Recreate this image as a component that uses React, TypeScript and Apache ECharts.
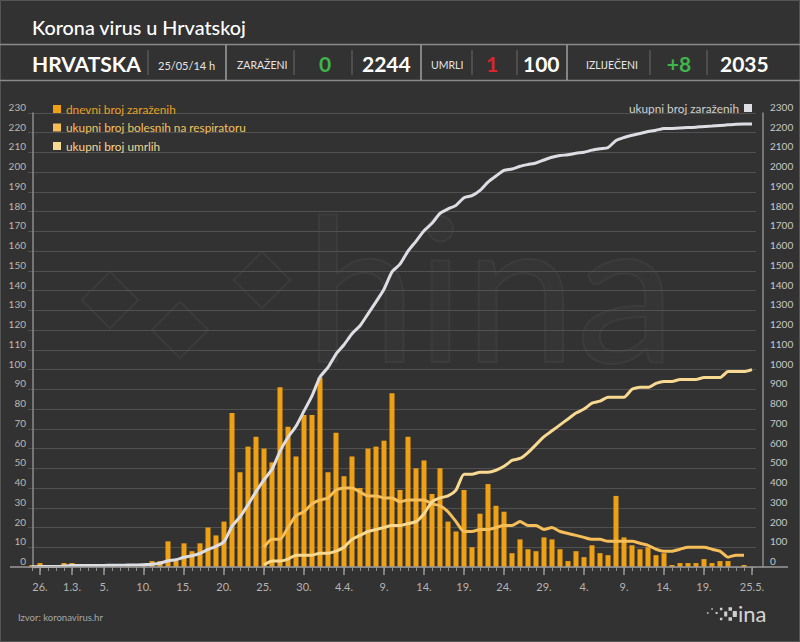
import React, { useEffect, useRef } from "react";
import * as echarts from "echarts";

// ---- data ----
const START_YEAR = 2020;
const START_MONTH = 1; // February (0-based)
const START_DAY = 25;
const DAY_COUNT = 91; // 25.2. .. 25.5.

const dailyCases = [
  1, 2, 0, 0, 2, 2, 0, 0, 1, 0, 1, 0, 1, 0, 1,
  3, 3, 13, 3, 12, 8, 12, 20, 16, 23,
  78, 48, 61, 66, 60, 53, 91, 71, 56, 77, 77,
  96, 48, 68, 46, 56, 40, 60, 61, 64, 88,
  39, 66, 50, 54, 37, 50, 23, 18, 39, 10,
  27, 42, 31, 28, 7, 14, 9, 8, 15, 14,
  9, 3, 8, 5, 11, 7, 6, 36, 15, 11,
  9, 10, 6, 7, 1, 2, 2, 2, 4, 2,
  3, 3, 0, 1, 0,
];

const totalCases = [
  1, 3, 3, 3, 5, 7, 7, 7, 8, 8, 9, 9, 10, 10, 12,
  14, 19, 32, 37, 49, 57, 69, 89, 105, 128,
  206, 254, 315, 382, 442, 495, 586, 657, 713, 790, 867,
  963, 1011, 1079, 1126, 1182, 1222, 1282, 1343, 1407, 1495,
  1534, 1600, 1650, 1704, 1741, 1791, 1814, 1832, 1871, 1881,
  1908, 1950, 1981, 2009, 2016, 2030, 2039, 2047, 2062, 2076,
  2085, 2088, 2096, 2101, 2112, 2119, 2125, 2161, 2176, 2187,
  2196, 2206, 2213, 2221, 2222, 2224, 2226, 2228, 2232, 2234,
  2237, 2240, 2243, 2244, 2244,
];

const onRespirator = [
  null, null, null, null, null, null, null, null, null, null, null, null, null, null, null,
  null, null, null, null, null, null, null, null, null, null,
  null, null, null, null, 10, 14, 14, 20, 26, 28, 32,
  34, 35, 39, 40, 40, 38, 36, 36, 35, 35,
  33, 34, 34, 34, 32, 31, 28, 23, 18, 18,
  19, 19, 20, 21, 21, 23, 21, 21, 19, 20,
  18, 17, 16, 15, 14, 14, 13, 13, 13, 13,
  12, 11, 9, 8, 8, 9, 10, 10, 10, 9,
  8, 5, 6, 6, null,
];

const totalDeaths = [
  null, null, null, null, null, null, null, null, null, null, null, null, null, null, null,
  null, null, null, null, null, null, null, null, null, null,
  null, null, null, null, 1, 3, 3, 4, 6, 6, 6,
  7, 7, 8, 10, 14, 16, 18, 19, 20, 21,
  21, 22, 23, 27, 33, 35, 36, 39, 47, 47,
  48, 48, 49, 51, 54, 55, 58, 62, 66, 69,
  72, 75, 78, 80, 83, 84, 86, 86, 86, 90,
  91, 91, 93, 94, 94, 95, 95, 95, 96, 96,
  96, 99, 99, 99, 100,
];

const tickDates = [
  "26.2.", "1.3.", "5.3.", "10.3.", "15.3.", "20.3.", "25.3.", "30.3.", "4.4.", "9.4.",
  "14.4.", "19.4.", "24.4.", "29.4.", "4.5.", "9.5.", "14.5.", "19.5.", "25.5.",
];
const tickTexts = [
  "26.", "1.3.", "5.", "10.", "15.", "20.", "25.", "30.", "4.4.", "9.",
  "14.", "19.", "24.", "29.", "4.", "9.", "14.", "19.", "25.5.",
];

const seriesNames = [
  "dnevni broj zaraženih",
  "ukupni broj bolesnih na respiratoru",
  "ukupni broj umrlih",
  "ukupni broj zaraženih",
];

const headerCells = [
  { label: "ZARAŽENI", today: "0", todayColor: "#3fb54a", total: "2244" },
  { label: "UMRLI", today: "1", todayColor: "#d8262e", total: "100" },
  { label: "IZLIJEČENI", today: "+8", todayColor: "#3fb54a", total: "2035" },
];

// ---- helpers ----
function buildCategories(): string[] {
  const out: string[] = [];
  for (let i = 0; i < DAY_COUNT; i++) {
    const d = new Date(START_YEAR, START_MONTH, START_DAY + i);
    out.push(`${d.getDate()}.${d.getMonth() + 1}.`);
  }
  return out;
}

const FONT = "Lato";

export default function App() {
  const ref = useRef<HTMLDivElement>(null);

  useEffect(() => {
    document.body.style.margin = "0";
    if (!ref.current) return;
    const chart = echarts.init(ref.current, undefined, { renderer: "svg" });
    const categories = buildCategories();
    const isTick = (_i: number, v: string) => tickDates.indexOf(v) >= 0;

    const colors = {
      bg: "#323232",
      bar: "#efa013",
      resp: "#f5be58",
      deaths: "#f8d992",
      total: "#dddde4",
      grid: "#515151",
      axis: "#8c8c8c",
    };

    const header: any[] = [
      {
        type: "rect",
        silent: true,
        shape: { x: 0.5, y: 0.5, width: 799, height: 641 },
        style: { fill: "none", stroke: "#555", lineWidth: 1 },
      },
      {
        type: "text",
        style: {
          text: "Korona virus u Hrvatskoj",
          x: 32, y: 27, fill: "#ffffff", fontSize: 19.8, fontFamily: FONT, fontWeight: 500,
          verticalAlign: "middle",
        },
      },
      { type: "line", shape: { x1: 0, y1: 44.5, x2: 800, y2: 44.5 }, style: { stroke: "#8a8a8a", lineWidth: 1.5 } },
      { type: "line", shape: { x1: 0, y1: 80.5, x2: 800, y2: 80.5 }, style: { stroke: "#8a8a8a", lineWidth: 1.5 } },
      {
        type: "text",
        style: { text: "HRVATSKA", x: 32, y: 63, fill: "#fff", fontSize: 21, fontWeight: "bold", fontFamily: FONT, verticalAlign: "middle" },
      },
      {
        type: "text",
        style: { text: "25/05/14 h", x: 158, y: 65, fill: "#e6e6e6", fontSize: 11, fontFamily: FONT, verticalAlign: "middle" },
      },
    ];
    [226, 421, 567].forEach((x) =>
      header.push({ type: "line", shape: { x1: x, y1: 45, x2: x, y2: 80 }, style: { stroke: "#a0a0a0", lineWidth: 1.5 } })
    );
    [148, 294, 352, 472, 517, 650, 707].forEach((x) =>
      header.push({ type: "line", shape: { x1: x, y1: 50, x2: x, y2: 75 }, style: { stroke: "#686868", lineWidth: 1 } })
    );
    const cellPos = [
      { label: 237, today: 325, total: 362 },
      { label: 431, today: 492, total: 523 },
      { label: 586, today: 679, total: 720 },
    ];
    headerCells.forEach((c, i) => {
      const p = cellPos[i];
      header.push({
        type: "text",
        style: { text: c.label, x: p.label, y: 65, fill: "#e6e6e6", fontSize: 10.5, fontFamily: FONT, verticalAlign: "middle" },
      });
      header.push({
        type: "text",
        style: { text: c.today, x: p.today, y: 63, fill: c.todayColor, fontSize: 21, fontWeight: "bold", fontFamily: FONT, align: "center", verticalAlign: "middle" },
      });
      header.push({
        type: "text",
        style: { text: c.total, x: p.total, y: 63, fill: "#fff", fontSize: 21, fontWeight: "bold", fontFamily: FONT, verticalAlign: "middle" },
      });
    });

    // footer + logo
    header.push({
      type: "text",
      style: { text: "Izvor: koronavirus.hr", x: 18, y: 617, fill: "#a8a8a8", fontSize: 9.5, fontFamily: FONT, verticalAlign: "middle" },
    });
    const sizes = [1.5, 1.5, 2, 2.5, 3, 3.5, 4];
    sizes.forEach((s, k) => {
      const x = 707 + k * 4.3;
      header.push({ type: "rect", shape: { x, y: 611 - s / 2 + (k % 2 ? -2 : 2), width: s, height: s }, style: { fill: "#cfcfcf" } });
      if (k > 2) header.push({ type: "rect", shape: { x, y: 617 - s / 2 + (k % 2 ? 2 : -2), width: s, height: s }, style: { fill: "#cfcfcf" } });
    });
    header.push({
      type: "text",
      style: { text: "ina", x: 738, y: 613, fill: "#d4d4d4", fontSize: 22, fontFamily: FONT, verticalAlign: "middle" },
    });

    // faint watermark
    header.push({
      type: "text",
      silent: true,
      z: -1,
      style: {
        text: "hina", x: 305, y: 385, fill: "rgba(255,255,255,0.015)", stroke: "rgba(255,255,255,0.045)", lineWidth: 2,
        fontSize: 200, fontFamily: FONT, verticalAlign: "bottom",
      },
    });
    [110, 180, 262].forEach((x, k) =>
      header.push({
        type: "rect",
        silent: true,
        z: -1,
        x: x, y: [300, 330, 280][k], rotation: Math.PI / 4,
        shape: { x: -20, y: -20, width: 40, height: 40 },
        style: { fill: "none", stroke: "rgba(255,255,255,0.045)", lineWidth: 2 },
      })
    );

    // extended baseline
    header.push({ type: "line", z: 5, shape: { x1: 10, y1: 567, x2: 788, y2: 567 }, style: { stroke: "#9a9a9a", lineWidth: 1.5 } });

    chart.setOption({
      animation: false,
      backgroundColor: colors.bg,
      textStyle: { fontFamily: FONT },
      grid: { left: 28, right: 44, top: 113, bottom: 75, containLabel: false },
      legend: [
        {
          orient: "vertical",
          left: 48,
          top: 98,
          icon: "rect",
          itemWidth: 8,
          itemHeight: 8,
          itemGap: 6.5,
          selectedMode: false,
          textStyle: { fontSize: 11.8, fontFamily: FONT },
          data: [
            { name: seriesNames[0], textStyle: { color: "#e9a020" } },
            { name: seriesNames[1], textStyle: { color: "#f2c35e" } },
            { name: seriesNames[2], textStyle: { color: "#f5d692" } },
          ],
        },
        {
          right: 43,
          top: 97,
          icon: "rect",
          align: "right",
          itemWidth: 8,
          itemHeight: 8,
          selectedMode: false,
          textStyle: { fontSize: 11.8, fontFamily: FONT, color: "#d0d0d0" },
          data: [{ name: seriesNames[3] }],
        },
      ],
      xAxis: [
        {
          type: "category",
          data: categories,
          boundaryGap: true,
          axisLine: { show: false },
          axisTick: { show: true, interval: 0, alignWithLabel: true, length: 4, lineStyle: { color: colors.axis, width: 1 } },
          axisLabel: {
            interval: isTick,
            formatter: (v: string) => {
              const k = tickDates.indexOf(v);
              return k >= 0 ? tickTexts[k] : "";
            },
            color: "#b4b4b4",
            fontSize: 11,
            fontFamily: FONT,
            margin: 14,
          },
          splitLine: { show: false },
        },
        {
          type: "category",
          data: categories,
          boundaryGap: true,
          position: "bottom",
          axisLine: { show: false },
          axisTick: { show: true, interval: isTick, alignWithLabel: true, length: 8, lineStyle: { color: "#9a9a9a", width: 1.5 } },
          axisLabel: { show: false },
          splitLine: { show: false },
        },
      ],
      yAxis: [
        {
          type: "value",
          min: 0,
          max: 230,
          interval: 10,
          offset: -5,
          axisLine: { show: true, lineStyle: { color: colors.axis, width: 1.5 } },
          axisTick: { show: false },
          axisLabel: { color: "#bdb8ae", fontSize: 10, fontFamily: FONT, margin: 7, verticalAlign: "bottom", lineHeight: 12 },
          splitLine: { show: true, lineStyle: { color: colors.grid, width: 1 } },
        },
        {
          type: "value",
          min: 0,
          max: 2300,
          interval: 100,
          offset: 7,
          position: "right",
          axisLine: { show: true, lineStyle: { color: colors.axis, width: 1.5 } },
          axisTick: { show: false },
          axisLabel: {
            color: "#c8c8c8", fontSize: 10, fontFamily: FONT, margin: 7, verticalAlign: "bottom", lineHeight: 12,
            formatter: (v: number) => String(v),
          },
          splitLine: { show: false },
        },
      ],
      series: [
        {
          name: seriesNames[0],
          type: "bar",
          data: dailyCases,
          barWidth: 5,
          itemStyle: { color: colors.bar },
          z: 2,
        },
        {
          name: seriesNames[1],
          type: "line",
          data: onRespirator,
          showSymbol: false,
          smooth: 0.2,
          itemStyle: { color: colors.resp },
          lineStyle: { color: colors.resp, width: 3 },
          z: 3,
        },
        {
          name: seriesNames[2],
          type: "line",
          data: totalDeaths,
          showSymbol: false,
          smooth: 0.2,
          itemStyle: { color: colors.deaths },
          lineStyle: { color: colors.deaths, width: 3 },
          z: 3,
        },
        {
          name: seriesNames[3],
          type: "line",
          yAxisIndex: 1,
          data: totalCases,
          showSymbol: false,
          smooth: 0.2,
          itemStyle: { color: colors.total },
          lineStyle: { color: colors.total, width: 3 },
          z: 4,
        },
      ],
      graphic: header,
    });

    return () => chart.dispose();
  }, []);

  return <div ref={ref} style={{ width: 800, height: 642 }} />;
}
